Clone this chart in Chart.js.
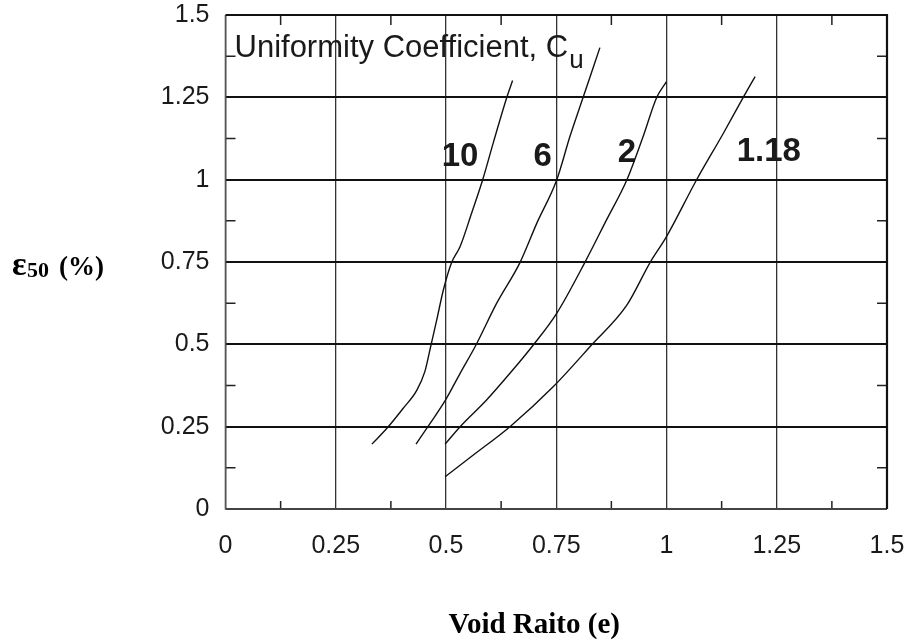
<!DOCTYPE html>
<html>
<head>
<meta charset="utf-8">
<title>Void ratio vs strain</title>
<script src="https://cdn.jsdelivr.net/npm/chart.js@4.4.1/dist/chart.umd.min.js"></script>
<style>
  html, body { margin: 0; padding: 0; background: #fff; }
  #wrap { width: 907px; height: 640px; }
</style>
</head>
<body>
<div id="wrap"><canvas id="myChart" width="907" height="640"></canvas></div>
<script>
// tick labels for both axes
const tickLabels = ['0', '0.25', '0.5', '0.75', '1', '1.25', '1.5'];

// curves, one per uniformity coefficient (void ratio e, strain %)
const cuValues = ['10', '6', '2', '1.18'];

const e_cu10 = [0.332, 0.366, 0.403, 0.434, 0.452, 0.466, 0.479, 0.494, 0.513, 0.532, 0.558, 0.583, 0.607, 0.638, 0.651];
const s_cu10 = [0.197, 0.245, 0.306, 0.361, 0.417, 0.498, 0.574, 0.665, 0.749, 0.797, 0.898, 0.999, 1.111, 1.250, 1.301];

const e_cu6 = [0.432, 0.464, 0.498, 0.532, 0.568, 0.615, 0.668, 0.706, 0.751, 0.781, 0.811, 0.849];
const s_cu6 = [0.197, 0.260, 0.329, 0.412, 0.498, 0.625, 0.749, 0.868, 0.999, 1.131, 1.250, 1.401];

const e_cu2 = [0.498, 0.532, 0.592, 0.645, 0.698, 0.751, 0.815, 0.864, 0.910, 0.947, 0.978, 1.000];
const s_cu2 = [0.197, 0.250, 0.331, 0.412, 0.498, 0.594, 0.749, 0.878, 0.999, 1.131, 1.250, 1.298];

const e_cu118 = [0.498, 0.562, 0.645, 0.743, 0.830, 0.910, 0.963, 1.000, 1.068, 1.129, 1.174, 1.201];
const s_cu118 = [0.098, 0.164, 0.250, 0.371, 0.498, 0.619, 0.749, 0.827, 0.999, 1.141, 1.250, 1.313];

// where each curve's Cu value is written
const labelE = [0.532, 0.719, 0.910, 1.232];
const labelS = [1.07, 1.07, 1.08, 1.085];

function pts(xs, ys) {
    let out = [];
    for (let i = 0; i < xs.length; i++) {
        out.push({x: xs[i], y: ys[i]});
    }
    return out;
}

const curves = [
    pts(e_cu10, s_cu10),
    pts(e_cu6, s_cu6),
    pts(e_cu2, s_cu2),
    pts(e_cu118, s_cu118)
];

// frame, minor ticks and all the text that sits on the plot
const decorations = {
    id: 'decorations',
    beforeDatasetsDraw(chart) {
        const ctx = chart.ctx;
        const a = chart.chartArea;
        const xs = chart.scales.x;
        const ys = chart.scales.y;
        ctx.save();

        // minor ticks at every 0.125 between the major lines
        ctx.strokeStyle = '#222';
        ctx.lineWidth = 1.5;
        for (let v = 0.125; v < 1.5; v += 0.25) {
            let px = xs.getPixelForValue(v);
            let py = ys.getPixelForValue(v);
            ctx.beginPath();
            ctx.moveTo(px, a.bottom); ctx.lineTo(px, a.bottom - 8);
            ctx.moveTo(px, a.top); ctx.lineTo(px, a.top + 10);
            ctx.moveTo(a.left, py); ctx.lineTo(a.left + 10, py);
            ctx.moveTo(a.right, py); ctx.lineTo(a.right - 10, py);
            ctx.stroke();
        }

        // frame: left and bottom grey, top and right black
        ctx.lineWidth = 1.6;
        ctx.strokeStyle = '#555';
        ctx.beginPath();
        ctx.moveTo(a.left, a.top); ctx.lineTo(a.left, a.bottom); ctx.lineTo(a.right, a.bottom);
        ctx.stroke();
        ctx.lineWidth = 2.2;
        ctx.strokeStyle = '#111';
        ctx.beginPath();
        ctx.moveTo(a.left, a.top); ctx.lineTo(a.right, a.top); ctx.lineTo(a.right, a.bottom);
        ctx.stroke();

        // heading inside the plot
        ctx.fillStyle = '#1a1a1a';
        ctx.textBaseline = 'alphabetic';
        ctx.textAlign = 'left';
        ctx.font = '31px "Liberation Sans", Arial, sans-serif';
        const head = 'Uniformity Coefficient, C';
        ctx.fillText(head, a.left + 9, a.top + 42);
        const w = ctx.measureText(head).width;
        ctx.font = '26px "Liberation Sans", Arial, sans-serif';
        ctx.fillText('u', a.left + 9 + w + 1, a.top + 53);

        // Cu values beside the curves
        ctx.font = 'bold 33px "Liberation Sans", Arial, sans-serif';
        ctx.textAlign = 'center';
        ctx.textBaseline = 'middle';
        for (let i = 0; i < cuValues.length; i++) {
            ctx.fillText(cuValues[i], xs.getPixelForValue(labelE[i]), ys.getPixelForValue(labelS[i]));
        }

        // axis titles
        ctx.fillStyle = '#000';
        ctx.textBaseline = 'alphabetic';
        ctx.textAlign = 'left';
        ctx.font = 'bold 34px "Liberation Serif", "Times New Roman", serif';
        ctx.fillText('\u03b5', 12, 275);
        ctx.font = 'bold 22px "Liberation Serif", "Times New Roman", serif';
        ctx.fillText('50', 27, 277);
        ctx.font = 'bold 27px "Liberation Serif", "Times New Roman", serif';
        ctx.fillText('(%)', 59, 275);

        ctx.textAlign = 'center';
        ctx.font = 'bold 29px "Liberation Serif", "Times New Roman", serif';
        ctx.fillText('Void Raito (e)', (a.left + a.right) / 2 - 22, 633);

        ctx.restore();
    }
};

const ctx = document.getElementById('myChart').getContext('2d');
const chart = new Chart(ctx, {
    type: 'scatter',
    data: {
        datasets: curves.map((c, i) => ({
            label: 'Cu = ' + cuValues[i],
            data: c,
            showLine: true,
            borderColor: '#111',
            borderWidth: 1.4,
            pointRadius: 0,
            cubicInterpolationMode: 'monotone',
            fill: false
        }))
    },
    options: {
        responsive: false,
        animation: false,
        layout: {padding: {top: 15, right: 20, left: 0, bottom: 0}},
        plugins: {
            legend: {display: false},
            tooltip: {enabled: false}
        },
        scales: {
            x: {
                type: 'linear',
                min: 0,
                max: 1.5,
                afterFit: s => {
                    s.height = 131;
                    s.paddingLeft = 0;
                    s.paddingRight = 0;
                },
                border: {display: false},
                grid: {color: '#333', lineWidth: 1.3, drawTicks: false},
                ticks: {
                    stepSize: 0.25,
                    padding: 22,
                    color: '#1a1a1a',
                    font: {family: '"Liberation Sans", Arial, sans-serif', size: 25},
                    callback: (v, i) => tickLabels[i]
                }
            },
            y: {
                type: 'linear',
                min: 0,
                max: 1.5,
                afterFit: s => {
                    s.width = 225.5;
                    s.paddingTop = 0;
                    s.paddingBottom = 0;
                },
                border: {display: false},
                grid: {color: '#111', lineWidth: 2, drawTicks: false},
                ticks: {
                    stepSize: 0.25,
                    padding: 16,
                    color: '#1a1a1a',
                    font: {family: '"Liberation Sans", Arial, sans-serif', size: 25},
                    callback: (v, i) => tickLabels[i]
                }
            }
        }
    },
    plugins: [decorations]
});
</script>
</body>
</html>
